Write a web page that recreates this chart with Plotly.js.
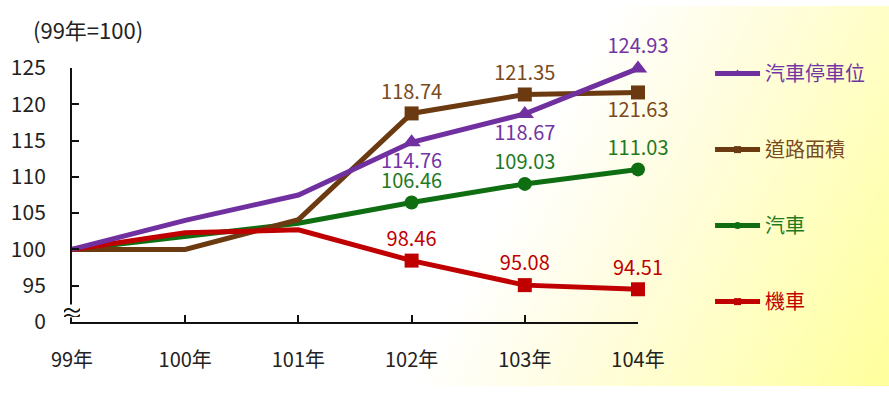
<!DOCTYPE html>
<html>
<head>
<meta charset="utf-8">
<script src="https://cdn.plot.ly/plotly-3.0.1.min.js"></script>
<style>
  html, body { margin: 0; padding: 0; background: #ffffff; }
  #wrap { position: relative; width: 889px; height: 395px; }
  #bg {
    position: absolute; left: 0; top: 6px; width: 889px; height: 380px;
    background: linear-gradient(118deg, #ffffff 0%, #ffffff 56%, #fffde0 70%, #ffffb8 88%, #ffff9c 100%);
  }
  #chart { position: absolute; left: 0; top: 0; width: 889px; height: 395px; }
</style>
</head>
<body>
<div id="wrap">
  <div id="bg"></div>
  <div id="chart"></div>
</div>
<script>
// Index values, base year 99 = 100
const years = ['99年', '100年', '101年', '102年', '103年', '104年'];
const parkingSpaces = [100, 104.0, 107.5, 114.76, 118.67, 124.93];   // 汽車停車位
const roadArea      = [100, 100.0, 104.1, 118.74, 121.35, 121.63];   // 道路面積
const cars          = [100, 101.8, 103.6, 106.46, 109.03, 111.03];   // 汽車
const motorcycles   = [100, 102.3, 102.7, 98.46, 95.08, 94.51];      // 機車

// Broken y axis: the lowest tick stands for 0
const yTickVals = [90, 95, 100, 105, 110, 115, 120, 125];
const yTickText = ['0', '95', '100', '105', '110', '115', '120', '125'];

const FONT = '"Noto Sans CJK TC", "Noto Sans", sans-serif';
const FIRST_LABELLED = 3;

function labels(vals) {
  return vals.map((v, i) => (i >= FIRST_LABELLED ? v.toFixed(2) : ''));
}
function sizes(vals, s) {
  return vals.map((v, i) => (i >= FIRST_LABELLED ? s : 0));
}

function series(name, vals, lineColor, textColor, symbol, msize, positions, rank) {
  return {
    type: 'scatter',
    mode: 'lines+markers+text',
    x: years,
    y: vals,
    name: '<span style="color:' + textColor + '">' + name + '</span>',
    legendgroup: name,
    legendrank: rank,
    line: { color: lineColor, width: 5 },
    marker: { color: lineColor, symbol: symbol, size: sizes(vals, msize), opacity: 1, line: { width: 0 } },
    text: labels(vals),
    textposition: positions,
    textfont: { family: FONT, size: 20, color: textColor },
    cliponaxis: false,
    hoverinfo: 'x+y'
  };
}

const up = 'top center', down = 'bottom center';

const data = [
  series('汽車', cars, '#0f6e12', '#1f7a1f', 'circle', 14, [up, up, up, up, up, up], 3),
  series('道路面積', roadArea, '#6b3a10', '#7a4a20', 'square', 14, [up, up, up, up, up, down], 2),
  series('機車', motorcycles, '#c00000', '#c00000', 'square', 14, [up, up, up, up, up, up], 4),
  series('汽車停車位', parkingSpaces, '#7030a0', '#7434a4', 'triangle-up', 16, [up, up, up, down, down, up], 1)
];

const layout = {
  width: 889,
  height: 395,
  margin: { l: 72, r: 251, t: 68, b: 73 },
  paper_bgcolor: 'rgba(0,0,0,0)',
  plot_bgcolor: 'rgba(0,0,0,0)',
  font: { family: FONT, size: 20, color: '#222222' },
  showlegend: true,
  legend: {
    xref: 'container', yref: 'container',
    x: 0.7987, y: 0.863, xanchor: 'left', yanchor: 'top',
    traceorder: 'grouped',
    tracegroupgap: 47,
    itemwidth: 45,
    maxheight: 380,
    bgcolor: 'rgba(0,0,0,0)',
    font: { family: FONT, size: 20 }
  },
  xaxis: {
    type: 'category',
    range: [0, 5],
    showgrid: false,
    zeroline: false,
    showline: true,
    linecolor: '#111111',
    linewidth: 2,
    ticks: 'inside',
    ticklen: 7,
    tickwidth: 2,
    tickcolor: '#111111',
    ticklabelstandoff: 19,
    tickfont: { family: FONT, size: 20, color: '#222222' }
  },
  yaxis: {
    range: [90, 125],
    tickvals: yTickVals,
    ticktext: yTickText,
    showgrid: false,
    zeroline: false,
    showline: true,
    linecolor: '#111111',
    linewidth: 2,
    ticks: 'inside',
    ticklen: 7,
    tickwidth: 2,
    tickcolor: '#111111',
    ticklabelstandoff: 20,
    tickfont: { family: FONT, size: 21, color: '#222222' }
  },
  annotations: [
    {
      xref: 'paper', yref: 'paper', x: -0.072, y: 1.155,
      xanchor: 'left', yanchor: 'middle',
      text: '(99年=100)', showarrow: false,
      font: { family: FONT, size: 22, color: '#222222' }
    },
    {
      // axis-break mark on the y axis
      xref: 'x', yref: 'y', x: 0, y: 91.5,
      xanchor: 'center', yanchor: 'middle',
      text: '≈', showarrow: false,
      width: 16, height: 12,
      bgcolor: '#ffffff', borderpad: 0,
      font: { family: FONT, size: 24, color: '#111111' }
    }
  ]
};

Plotly.newPlot('chart', data, layout, { displayModeBar: false, staticPlot: true });
</script>
</body>
</html>
